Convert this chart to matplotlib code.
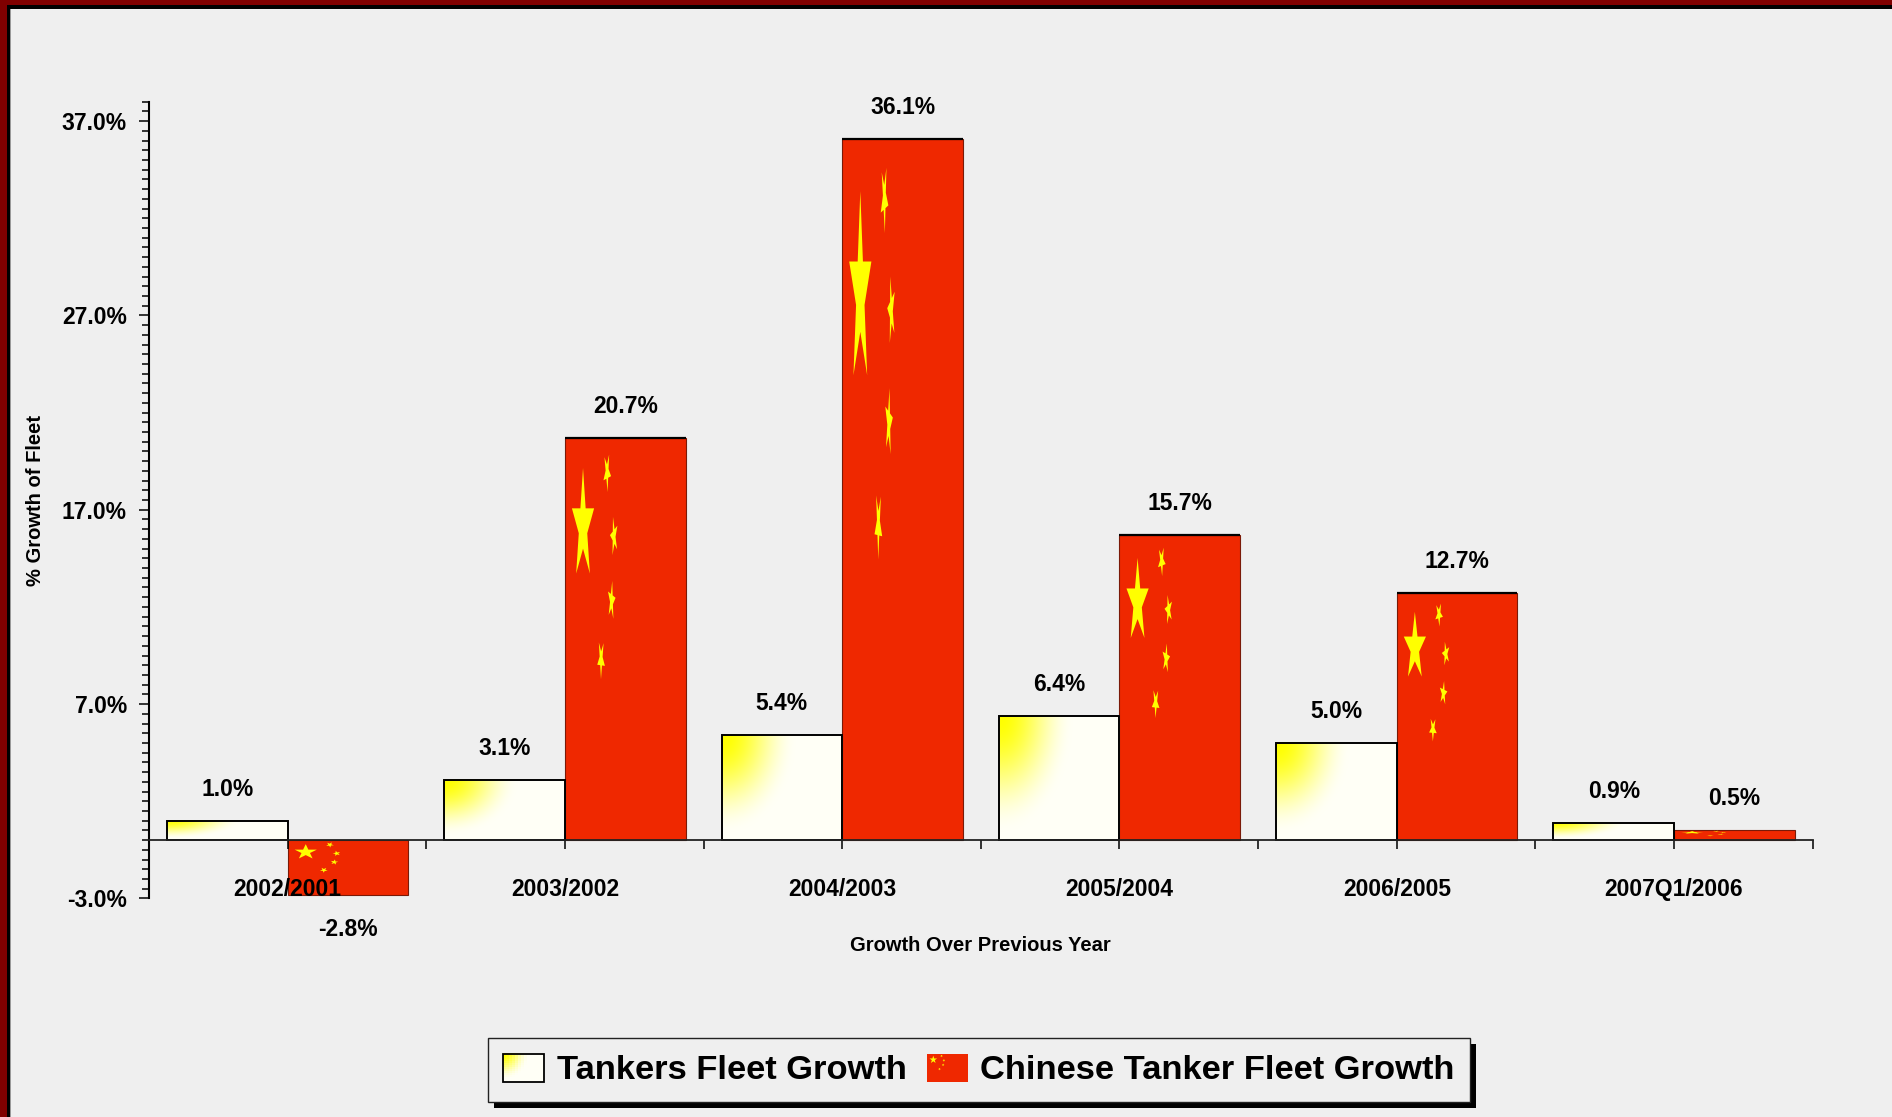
import numpy as np
import matplotlib
matplotlib.use("Agg")
import matplotlib.pyplot as plt
from matplotlib.patches import Rectangle, Polygon
from matplotlib.legend_handler import HandlerBase
from matplotlib.ticker import FixedLocator, FormatStrFormatter, MultipleLocator

categories = ['2002/2001', '2003/2002', '2004/2003', '2005/2004', '2006/2005', '2007Q1/2006']
tankers_growth = [1.0, 3.1, 5.4, 6.4, 5.0, 0.9]
chinese_growth = [-2.8, 20.7, 36.1, 15.7, 12.7, 0.5]
series_names = ['Tankers Fleet Growth', 'Chinese Tanker Fleet Growth']
y_major = [-3, 7, 17, 27, 37]

plt.rcParams['font.family'] = ['Liberation Sans', 'DejaVu Sans']
plt.rcParams['font.weight'] = 'bold'
plt.rcParams['axes.labelweight'] = 'bold'

BG = '#efefef'
FLAG_RED = '#ef2800'
YELLOW = np.array([1.0, 1.0, 0.0])
CREAM = np.array([1.0, 1.0, 0.965])
W, H = 1892, 1117
LABEL_SIZE = 16.5

# corner gradient used to fill the tanker bars
gu, gv = np.meshgrid(np.linspace(0, 1, 80), np.linspace(0, 1, 80))
gt = np.clip(np.sqrt((gu / 0.62) ** 2 + (gv / 0.95) ** 2), 0, 1)
gt = gt * gt * (3 - 2 * gt)
gradient_img = YELLOW * (1 - gt)[..., None] + CREAM * gt[..., None]

# star layout of the flag picture on a 30 x 20 grid (y pointing down)
big_star = (4.5, 4.4, 2.9)
small_stars = [(10.5, 1.7, 1.0), (12.2, 4.9, 1.0), (11.6, 8.1, 1.0), (9.0, 11.0, 1.0)]


def star_outline(cx, cy, r, ang0):
    pts = []
    for k in range(10):
        a = ang0 + k * np.pi / 5
        rad = r if k % 2 == 0 else r * 0.382
        pts.append((cx + rad * np.cos(a), cy + rad * np.sin(a)))
    return np.array(pts)


def flag_polys(x0, y_top, w, h):
    bx, by, br = big_star
    stars = [star_outline(bx, by, br, -np.pi / 2)]
    for cx, cy, r in small_stars:
        stars.append(star_outline(cx, cy, r, np.arctan2(by - cy, bx - cx)))
    return [np.column_stack([x0 + p[:, 0] / 30 * w, y_top - p[:, 1] / 20 * h]) for p in stars]


fig = plt.figure(figsize=(W / 100, H / 100), dpi=100, facecolor=BG)
ax = fig.add_axes([149 / W, 1 - 898.4 / H, (1812.7 - 149) / W, (898.4 - 101.7) / H])
ax.set_facecolor(BG)

x = np.arange(len(categories))
bw = 0.435
tank_bars = ax.bar(x - bw / 2, tankers_growth, bw, facecolor='none', edgecolor='black',
                   linewidth=1.4, zorder=2)
china_bars = ax.bar(x + bw / 2, chinese_growth, bw, color=FLAG_RED, edgecolor='#7a1a08',
                    linewidth=0.8, zorder=1)

for rect in tank_bars:
    x0, y0, w, h = rect.get_x(), rect.get_y(), rect.get_width(), rect.get_height()
    ax.imshow(gradient_img, extent=(x0, x0 + w, y0, y0 + h), origin='upper',
              aspect='auto', interpolation='bilinear', zorder=1.5)

for rect in china_bars:
    x0, y0, w, h = rect.get_x(), rect.get_y(), rect.get_width(), rect.get_height()
    top = max(y0, y0 + h)
    for pts in flag_polys(x0, top, w, abs(h)):
        ax.add_patch(Polygon(pts, closed=True, facecolor='#ffff00', edgecolor='none', zorder=1.2))
    if h > 1:
        ax.hlines(top, x0, x0 + w, color='black', linewidth=1.6, zorder=1.3)

# value labels
for rect, v in zip(list(tank_bars) + list(china_bars), tankers_growth + chinese_growth):
    cx = rect.get_x() + rect.get_width() / 2
    if v >= 0:
        ax.annotate(f'{v:.1f}%', (cx, v), xytext=(0, 18), textcoords='offset points',
                    ha='center', va='baseline', fontsize=LABEL_SIZE)
    else:
        ax.annotate(f'{v:.1f}%', (cx, v), xytext=(0, -17), textcoords='offset points',
                    ha='center', va='top', fontsize=LABEL_SIZE)

ax.set_xlim(-0.5, len(categories) - 0.5)
ax.set_ylim(-3, 38)

# axes styling
for side in ['top', 'right']:
    ax.spines[side].set_visible(False)
ax.spines['bottom'].set_position(('data', 0))
ax.spines['bottom'].set_color('#222222')
ax.spines['bottom'].set_linewidth(1.3)
ax.spines['left'].set_linewidth(1.5)

ax.yaxis.set_major_locator(FixedLocator(y_major))
ax.yaxis.set_minor_locator(MultipleLocator(0.5))
ax.yaxis.set_major_formatter(FormatStrFormatter('%.1f%%'))
ax.tick_params(axis='y', which='major', direction='out', length=7, width=1.1, pad=9,
               labelsize=LABEL_SIZE)
ax.tick_params(axis='y', which='minor', direction='out', length=5, width=1.1)

ax.xaxis.set_major_locator(FixedLocator(np.arange(len(categories) + 1) - 0.5))
ax.xaxis.set_major_formatter(plt.NullFormatter())
ax.set_xticks(x, categories, minor=True)
ax.tick_params(axis='x', which='both', direction='out', length=6.5, width=1.1)
ax.tick_params(axis='x', which='minor', pad=21, labelsize=LABEL_SIZE)

ax.set_ylabel('% Growth of Fleet', fontsize=14.5, fontweight='bold')
ax.yaxis.set_label_coords(-0.0625, 0.5)
ax.set_xlabel('Growth Over Previous Year', fontsize=14.5, fontweight='bold', va='top')
ax.xaxis.set_label_coords(0.5, -0.047)


class GradientHandler(HandlerBase):
    def create_artists(self, legend, orig_handle, xdescent, ydescent, width, height, fontsize, trans):
        arts = []
        n = 14
        for i in range(n):
            for j in range(n):
                c = gradient_img[int((j + 0.5) / n * 79), int((i + 0.5) / n * 79)]
                arts.append(Rectangle((-xdescent + i * width / n, -ydescent + height - (j + 1) * height / n),
                                      width / n + 0.3, height / n + 0.3, facecolor=c, edgecolor='none',
                                      transform=trans))
        arts.append(Rectangle((-xdescent, -ydescent), width, height, facecolor='none',
                              edgecolor='black', linewidth=1.3, transform=trans))
        return arts


class FlagHandler(HandlerBase):
    def create_artists(self, legend, orig_handle, xdescent, ydescent, width, height, fontsize, trans):
        arts = [Rectangle((-xdescent, -ydescent), width, height, facecolor=FLAG_RED,
                          edgecolor='none', transform=trans)]
        for pts in flag_polys(-xdescent, -ydescent + height, width, height):
            arts.append(Polygon(pts, closed=True, facecolor='#ffff00', edgecolor='none', transform=trans))
        return arts


h_tank = Rectangle((0, 0), 1, 1)
h_china = Rectangle((0, 0), 1, 1)
leg = fig.legend([h_tank, h_china], series_names, loc='center', ncol=2,
                 bbox_to_anchor=(979 / W, 1 - 1070 / H),
                 handler_map={h_tank: GradientHandler(), h_china: FlagHandler()},
                 prop={'size': 24.8, 'weight': 'bold'}, handlelength=1.2, handleheight=0.88,
                 handletextpad=0.35, columnspacing=0.6, borderpad=0.45, borderaxespad=0,
                 fancybox=False, frameon=True, framealpha=1, facecolor=BG, edgecolor='#222222')
leg.get_frame().set_linewidth(1.0)

# drop shadow under the legend box
fig.canvas.draw()
bb = leg.get_window_extent()
fig.patches.append(Rectangle(((bb.x0 + 6) / W, (bb.y0 - 6) / H), bb.width / W, bb.height / H,
                             transform=fig.transFigure, facecolor='black', edgecolor='none', zorder=4))

# frame along the top and left edges
fig.patches.append(Rectangle((0, 1 - 5 / H), 1, 5 / H, transform=fig.transFigure,
                             facecolor='#800000', edgecolor='none', zorder=10))
fig.patches.append(Rectangle((0, 1 - 9 / H), 1, 4 / H, transform=fig.transFigure,
                             facecolor='black', edgecolor='none', zorder=10))
fig.patches.append(Rectangle((0, 0), 7 / W, 1, transform=fig.transFigure,
                             facecolor='#800000', edgecolor='none', zorder=11))
fig.patches.append(Rectangle((7 / W, 0), 3 / W, 1 - 5 / H, transform=fig.transFigure,
                             facecolor='black', edgecolor='none', zorder=11))
fig.patches.append(Rectangle((10 / W, 0), 1 / W, 1 - 9 / H, transform=fig.transFigure,
                             facecolor='#9a9a9a', edgecolor='none', zorder=11))

fig.savefig('out.png', dpi=100, facecolor=BG)
